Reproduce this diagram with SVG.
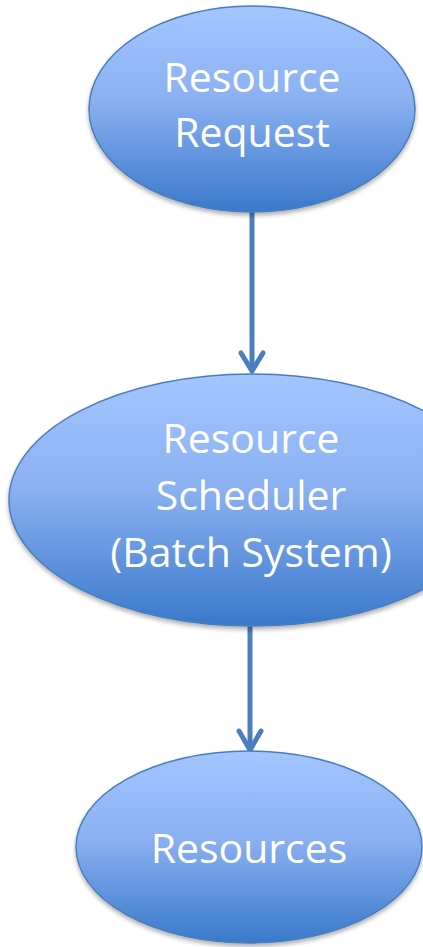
<svg xmlns="http://www.w3.org/2000/svg" width="423" height="947" viewBox="0 0 423 947">
<defs>
<linearGradient id="g" x1="0" y1="0" x2="0" y2="1">
<stop offset="0" stop-color="#A3C6FF"/>
<stop offset="0.45" stop-color="#8BB1F2"/>
<stop offset="1" stop-color="#3A79CA"/>
</linearGradient>
<filter id="sh" x="-10%" y="-10%" width="120%" height="125%">
<feDropShadow dx="0" dy="3" stdDeviation="2" flood-color="#000" flood-opacity="0.3"/>
</filter>
</defs>
<style>
.node{fill:url(#g);stroke:#4A7EBB;stroke-width:1.5;filter:url(#sh)}
.lbl{font-family:"Open Sans","Liberation Sans",sans-serif;font-size:41px;fill:#fff;text-anchor:middle}
.conn{stroke:#4A7EBE;stroke-width:5;fill:none;stroke-linecap:round;stroke-linejoin:round}
</style>
<g id="connectors">
<line class="conn" x1="252" y1="212" x2="252" y2="370"/>
<path d="M241,353 L252,371 L263,353" class="conn"/>
<line class="conn" x1="250" y1="628" x2="250" y2="749"/>
<path d="M239,731 L250,750 L261,731" class="conn"/>
</g>
<g id="node-request">
<ellipse class="node" cx="252" cy="109" rx="163" ry="103"/>
<text class="lbl" x="252" y="92">Resource</text>
<text class="lbl" x="252" y="147">Request</text>
</g>
<g id="node-scheduler">
<ellipse class="node" cx="252" cy="500" rx="243" ry="126"/>
<text class="lbl" x="251" y="453">Resource</text>
<text class="lbl" x="251" y="510">Scheduler</text>
<text class="lbl" x="251" y="567">(Batch System)</text>
</g>
<g id="node-resources">
<ellipse class="node" cx="249" cy="847" rx="173" ry="96"/>
<text class="lbl" x="249" y="863">Resources</text>
</g>
</svg>
